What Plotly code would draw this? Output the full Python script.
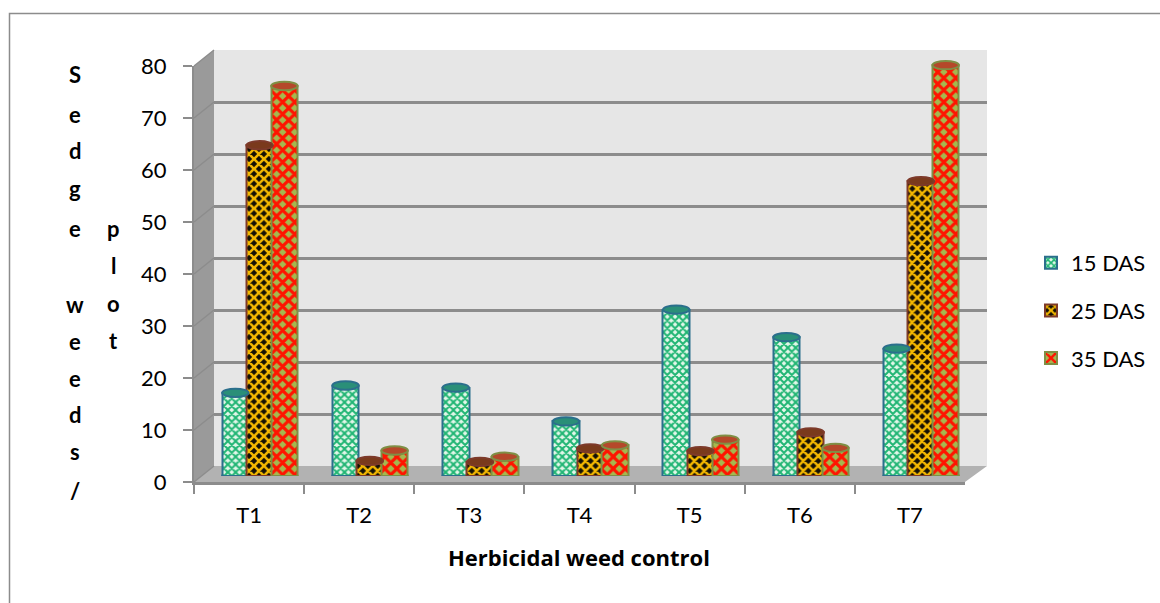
import plotly.graph_objects as go

categories = ["T1", "T2", "T3", "T4", "T5", "T6", "T7"]
series_names = ["15 DAS", "25 DAS", "35 DAS"]
das15 = [16, 17.4, 17, 10.5, 32, 26.7, 24.5]
das25 = [63.6, 2.9, 2.7, 5.3, 4.8, 8.4, 56.7]
das35 = [75, 4.9, 3.7, 5.9, 7, 5.4, 79]
y_ticks = [0, 10, 20, 30, 40, 50, 60, 70, 80]
x_title = "Herbicidal weed control"
y_col1 = ["S", "e", "d", "g", "e", "", "w", "e", "e", "d", "s", "/"]
y_col2 = ["p", "l", "o", "t"]

W, H = 1160, 603
FONT = "Lato"
GRID = "#8c8c8c"
def px(x): return x / W
def py(y): return 1 - y / H
def dom(a, b, n): return [a / n, b / n]

styles = [
    dict(bg="#e4f7ea", fg="#1fb573", line="#2b6f8c", top="#2a8f78", size=5.5, sol=0.6),
    dict(bg="#141005", fg="#f5b800", line="#7d3a2a", top="#7a3a1c", size=7, sol=0.6),
    dict(bg="#a5b84e", fg="#ff1400", line="#7f8f45", top="#b5482a", size=8.5, sol=0.6),
]
BW = 0.24
offsets = [-0.34, -0.12, 0.105]
values = [das15, das25, das35]
xs = list(range(len(categories)))

fig = go.Figure()
for name, vals, st, off in zip(series_names, values, styles, offsets):
    fig.add_bar(
        x=xs, y=vals, name=name, width=BW, offset=off,
        legendgroup=name, xaxis="x2", yaxis="y2",
        marker=dict(color=st["fg"], line=dict(color=st["line"], width=2),
                    pattern=dict(shape="x", fgcolor=st["fg"], bgcolor=st["bg"],
                                 size=st["size"], solidity=st["sol"], fillmode="replace")),
    )

def poly(pts, fill="rgba(0,0,0,0)", line=None):
    p = "M" + " L".join(f"{px(a):.5f},{py(b):.5f}" for a, b in pts)
    return dict(type="path", xref="paper", yref="paper", path=p, fillcolor=fill,
                line=line or dict(width=0), layer="below")

shapes = []
# chart frame (only the top and left edges fall inside the picture)
shapes.append(poly([(9.5, 603), (9.5, 13.5), (1160, 13.5)], line=dict(color=GRID, width=1.5)))
# 3-D walls
shapes.append(poly([(214, 50), (987, 50), (987, 466), (214, 466)], "#e6e6e6"))
shapes.append(poly([(194, 66), (214, 50), (214, 466), (194, 482)], "#9a9a9a"))
shapes.append(poly([(194, 482), (214, 466), (987, 466), (965, 482)], "#b2b2b2"))
# depth lines on the side wall
for t in y_ticks:
    yf = 482 - t * 5.2
    yb = 466 - t * 5.2
    shapes.append(dict(type="line", xref="paper", yref="paper", x0=px(194), x1=px(214), y0=py(yf), y1=py(yb),
                       line=dict(color=GRID, width=1.5), layer="below"))
# cylinder ends
for vals, st, off in zip(values, styles, offsets):
    for i, v in zip(xs, vals):
        shapes.append(dict(type="circle", xref="x2", yref="y2", x0=i + off, x1=i + off + BW, y0=-0.8, y1=0.8,
                           fillcolor=st["line"], line=dict(color=st["line"], width=2), layer="below"))
        shapes.append(dict(type="circle", xref="x2", yref="y2", x0=i + off, x1=i + off + BW, y0=v - 0.8, y1=v + 0.8,
                           fillcolor=st["top"], line=dict(color=st["line"], width=2), layer="above"))

annotations = [dict(text=x_title, x=px(579), y=py(557), xref="paper", yref="paper", showarrow=False,
                    xanchor="center", yanchor="middle",
                    font=dict(family="Open Sans", size=22, color="black", weight="bold"))]
ys1 = [74, 114, 150, 188, 228, None, 304, 341, 378, 414, 451, 490]
for ch, yy in zip(y_col1, ys1):
    if ch:
        annotations.append(dict(text=ch, x=px(75), y=py(yy), xref="paper", yref="paper", showarrow=False,
                                xanchor="center", yanchor="middle",
                                font=dict(family=FONT, size=22, color="black", weight="bold")))
for ch, yy in zip(y_col2, [228, 265, 303, 340]):
    annotations.append(dict(text=ch, x=px(113), y=py(yy), xref="paper", yref="paper", showarrow=False,
                            xanchor="center", yanchor="middle",
                            font=dict(family=FONT, size=22, color="black", weight="bold")))

hidden = dict(visible=False)
fig.update_layout(
    width=W, height=H, margin=dict(l=0, r=0, t=0, b=0, autoexpand=False), autosize=False,
    paper_bgcolor="white", plot_bgcolor="rgba(0,0,0,0)",
    font=dict(family=FONT, size=22, color="black"),
    shapes=shapes, annotations=annotations,
    # back wall: gridlines
    xaxis=dict(domain=dom(214, 987, W), range=[0, 1], anchor="y", **hidden),
    yaxis=dict(domain=[py(466), py(50)], range=[0, 80], anchor="x",
               tickmode="array", tickvals=y_ticks, showticklabels=False, ticks="", showgrid=True,
               gridcolor=GRID, gridwidth=2.5, zeroline=False, showline=False),
    # bars sit on the mid-depth plane
    xaxis2=dict(domain=dom(204.5, 976, W), range=[-0.5, 6.5], anchor="y2", **hidden),
    yaxis2=dict(domain=[py(476), py(60)], range=[0, 80], anchor="x2", **hidden),
    # front plane: visible axes
    xaxis3=dict(domain=dom(194, 965, W), type="category", categoryorder="array", categoryarray=categories,
                range=[-0.5, 6.5], anchor="y3", tickson="boundaries", showgrid=False, showline=True,
                linecolor=GRID, linewidth=2.5, ticks="outside", ticklen=9, tickcolor=GRID, tickwidth=2,
                ticklabelstandoff=12, zeroline=False),
    yaxis3=dict(domain=[py(482), py(66)], range=[0, 80], anchor="x3",
                tickmode="array", tickvals=y_ticks, showgrid=False, showline=True, linecolor=GRID,
                linewidth=2, ticks="outside", ticklen=9, tickcolor=GRID, tickwidth=2, zeroline=False,
                ticklabelstandoff=12),
    bargap=0, barmode="overlay",
    legend=dict(x=px(1031), y=py(242), xanchor="left", yanchor="top",
                bgcolor="rgba(0,0,0,0)", tracegroupgap=16, traceorder="grouped",
                font=dict(family=FONT, size=22, color="black")),
)
# empty carriers so the back and front axes are drawn
fig.add_scatter(x=[0], y=[None], xaxis="x", yaxis="y", showlegend=False, hoverinfo="skip")
fig.add_scatter(x=categories, y=[None] * len(categories), xaxis="x3", yaxis="y3", showlegend=False, hoverinfo="skip")
fig.write_html("out.html", post_script="document.body.style.margin='0';", config=dict(displayModeBar=False))
